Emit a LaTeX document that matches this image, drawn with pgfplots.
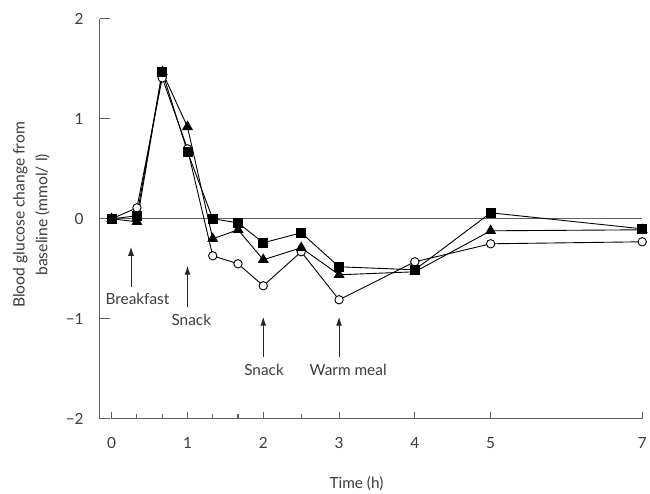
\documentclass[border=0pt]{standalone}
\usepackage{pgfplots}
\pgfplotsset{compat=1.18}
\usepackage{fontspec}
\setmainfont{Lato}
\usetikzlibrary{arrows.meta}
\definecolor{axgray}{HTML}{606060}
\definecolor{txtgray}{HTML}{3C3C3C}
\begin{document}
\begin{tikzpicture}
\begin{axis}[
  width=545bp, height=401.5bp, scale only axis,
  xmin=-0.16, xmax=7, ymin=-2, ymax=2,
  axis line style={draw=none},
  tick align=inside,
  xtick pos=bottom, ytick pos=left,
  xtick={0,1,2,3,4,5,7},
  xticklabels={0,1,2,3,4,5,7},
  minor xtick={0.333,0.667,1.333,1.667,2.5},
  ytick={-2,-1,0,1,2},
  yticklabels={−2,−1,0,1,2},
  major tick length=10bp,
  xtick style={/pgfplots/major tick length=7bp, /pgfplots/minor tick length=4.5bp},
  tick style={axgray, line width=1.1bp},
  minor tick style={axgray, line width=1.1bp},
  ticklabel style={font=\fontsize{15.5}{18}\selectfont, text=txtgray},
  yticklabel style={xshift=-12.5bp},
  xticklabel style={yshift=-15bp},
  ylabel={Blood glucose change from\\baseline (mmol/ l)},
  ylabel style={at={(axis description cs:-0.1257,0.51)}, anchor=center, align=center, font=\fontsize{15.8}{23}\selectfont, text=txtgray},
  clip=false,
]
% axis lines
\draw[axgray, line width=1.3bp] (axis cs:-0.16,2) -- (axis cs:-0.16,-2);
\draw[axgray, line width=1.3bp] (axis cs:0,-2) -- (axis cs:7,-2);
% zero reference line
\addplot[axgray, line width=1.3bp] coordinates {(-0.16,0) (7,0)};
% circles
\addplot[black, line width=0.9bp, mark=*, mark size=4.2bp, mark options={fill=white, line width=0.9bp}] coordinates {
(0,0) (0.333,0.11) (0.667,1.41) (1,0.70) (1.333,-0.37) (1.667,-0.45) (2,-0.67) (2.5,-0.33) (3,-0.81) (4,-0.43) (5,-0.25) (7,-0.23)};
% squares
\addplot[black, line width=0.9bp, mark=square*, mark size=4.5bp, mark options={fill=black}] coordinates {
(0,0) (0.333,0.03) (0.667,1.47) (1,0.67) (1.333,0.0) (1.667,-0.04) (2,-0.24) (2.5,-0.14) (3,-0.48) (4,-0.51) (5,0.06) (7,-0.10)};
% triangles
\addplot[black, line width=0.9bp, mark=triangle*, mark size=5.5bp, mark options={fill=black}] coordinates {
(0,0) (0.333,-0.03) (0.667,1.47) (1,0.92) (1.333,-0.20) (1.667,-0.11) (2,-0.41) (2.5,-0.29) (3,-0.56) (4,-0.53) (5,-0.12) (7,-0.11)};
% annotations
\draw[black!85, line width=1bp, -{Latex[length=9bp,width=6bp]}] (axis cs:0.255,-0.68) -- (axis cs:0.255,-0.28);
\draw[black!85, line width=1bp, -{Latex[length=9bp,width=6bp]}] (axis cs:1.0,-0.88) -- (axis cs:1.0,-0.47);
\draw[black!85, line width=1bp, -{Latex[length=9bp,width=6bp]}] (axis cs:2.0,-1.38) -- (axis cs:2.0,-0.98);
\draw[black!85, line width=1bp, -{Latex[length=9bp,width=6bp]}] (axis cs:3.0,-1.38) -- (axis cs:3.0,-0.98);
\node[text=txtgray, font=\fontsize{15.5}{18}\selectfont] at (axis cs:0.34,-0.80) {Breakfast};
\node[text=txtgray, font=\fontsize{15.5}{18}\selectfont] at (axis cs:1.05,-1.01) {Snack};
\node[text=txtgray, font=\fontsize{15.5}{18}\selectfont] at (axis cs:2.01,-1.51) {Snack};
\node[text=txtgray, font=\fontsize{15.5}{18}\selectfont] at (axis cs:3.12,-1.51) {Warm meal};
\node[text=txtgray, font=\fontsize{15.5}{18}\selectfont, anchor=center] at (axis cs:3.23,-2) [yshift=-65bp] {Time (h)};
\end{axis}
\path (-100bp,-67.5bp) rectangle (550bp,420.5bp);
\end{tikzpicture}
\end{document}
